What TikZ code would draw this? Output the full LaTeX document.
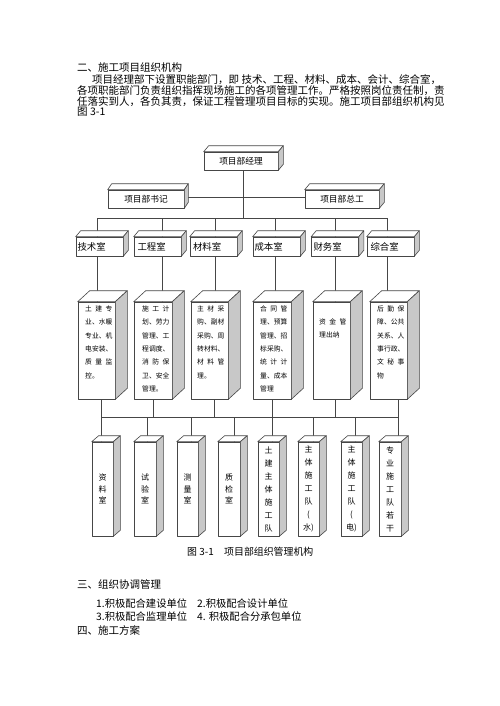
\documentclass[tikz,border=0pt]{standalone}
\usepackage{fontspec}
\setmainfont{Noto Sans CJK SC}
\pgfdeclarelayer{bg}
\pgfsetlayers{bg,main}
\newcommand\fT{\fontsize{10.5}{11}\selectfont}
\newcommand\fA{\fontsize{8.7}{10}\selectfont}
\newcommand\fB{\fontsize{9.4}{10}\selectfont}
\newcommand\fD{\fontsize{6.8}{13.3}\selectfont}
\newcommand\fE{\fontsize{8}{11.7}\selectfont}
\newcommand\fF{\fontsize{8}{13}\selectfont}
\newcommand\fC{\fontsize{9.9}{11}\selectfont}
\newcommand\fG{\fontsize{10.3}{11}\selectfont}
\newlength\jw
\setlength\jw{27.2pt}
\newcommand\triline[3]{\makebox[\jw][s]{#1\hfill#2\hfill#3}}
\newcommand\rt[2]{\makebox[47pt][l]{\hspace{#1pt}#2}}
\newcommand\cubefaces[3]{%
  \filldraw[face] (#1.north west) -- ([shift={(#2,#3)}]#1.north west) -- ([shift={(#2,#3)}]#1.north east) -- (#1.north east) -- cycle;
  \filldraw[face,fill=sidegray] (#1.north east) -- ([shift={(#2,#3)}]#1.north east) -- ([shift={(#2,#3)}]#1.south east) -- (#1.south east) -- cycle;}
\definecolor{sidegray}{RGB}{200,200,200}
\definecolor{linegray}{RGB}{70,70,70}
\begin{document}
\begin{tikzpicture}[x=1pt,y=-1pt,
  conn/.style={draw=linegray,line width=0.6pt},
  face/.style={draw=linegray,line width=0.6pt,fill=white,line join=round},
  box/.style={draw=linegray,line width=0.6pt,fill=white,inner sep=0pt,line join=round},
  txt/.style={inner sep=0pt,anchor=base west,font=\fT},
  inbox/.style={inner sep=0pt,anchor=north west,align=left,font=\fD}]
\useasboundingbox (0,0) rectangle (500,706);

% ---- text above ----
\node[txt] (h1) at (77,72) {二、施工项目组织机构};
\node[txt] (p1) at (92,84) {项目经理部下设置职能部门，即 技术、工程、材料、成本、会计、综合室，};
\node[txt] (p2) at (77,95) {各项职能部门负责组织指挥现场施工的各项管理工作。严格按照岗位责任制，责};
\node[txt] (p3) at (77,106) {任落实到人，各负其责，保证工程管理项目目标的实现。施工项目部组织机构见};
\node[txt] (p4) at (77,116) {图 3-1};

% ---- level 1 and 2 ----
\node[box,minimum width=74pt,minimum height=18pt,font=\fA] (jl) at (241,161) {项目部经理};
\node[box,minimum width=76pt,minimum height=18pt,font=\fA] (sj) at (146,199) {项目部书记};
\node[box,minimum width=74pt,minimum height=18pt,font=\fA] (zg) at (342,199) {项目部总工};
\cubefaces{jl}{5}{-6}
\cubefaces{sj}{4}{-6}
\cubefaces{zg}{5}{-6}

% ---- level 3 ----
\node[box,minimum width=47pt,minimum height=19pt,font=\fB] (r1) at (99.5,246.5) {\rt{1.5}{技术室}};
\node[box,minimum width=47pt,minimum height=19pt,font=\fB] (r2) at (157.5,246.5) {\rt{3.5}{工程室}};
\node[box,minimum width=47pt,minimum height=19pt,font=\fB] (r3) at (213.5,246.5) {\rt{3}{材料室}};
\node[box,minimum width=47pt,minimum height=19pt,font=\fB] (r4) at (276.5,246.5) {\rt{1.5}{成本室}};
\node[box,minimum width=46pt,minimum height=19pt,font=\fB] (r5) at (335,246.5) {\rt{2}{财务室}};
\node[box,minimum width=47pt,minimum height=19pt,font=\fB] (r6) at (390.5,246.5) {\rt{3.5}{综合室}};
\foreach \n in {r1,r2,r3,r4,r5,r6}{\cubefaces{\n}{5}{-6}}

% ---- level 4 ----
\node[box,minimum width=37pt,minimum height=97pt] (b1) at (96.5,350.5) {};
\node[box,minimum width=38pt,minimum height=97pt] (b2) at (153,350.5) {};
\node[box,minimum width=37pt,minimum height=97pt] (b3) at (209.5,350.5) {};
\node[box,minimum width=38pt,minimum height=97pt] (b4) at (272,350.5) {};
\node[box,minimum width=37pt,minimum height=97pt] (b5) at (331.5,350.5) {};
\node[box,minimum width=37pt,minimum height=97pt] (b6) at (388.5,350.5) {};
\foreach \n in {b1,b2,b3,b4,b5,b6}{\cubefaces{\n}{12}{-11}}
\node[inbox] (bt1) at (85,305.6) {\triline{土}{建}{专}\\业、水暖\\专业、机\\电安装、\\\triline{质}{量}{监}\\控。};
\node[inbox] (bt2) at (142,305.6) {\triline{施}{工}{计}\\划、劳力\\管理、工\\程调度、\\\triline{消}{防}{保}\\卫、安全\\管理。};
\node[inbox] (bt3) at (197,305.6) {\triline{主}{材}{采}\\购、副材\\采购、周\\转材料、\\\triline{材}{料}{管}\\理。};
\node[inbox] (bt4) at (260,305.6) {\triline{合}{同}{管}\\理、预算\\管理、招\\标采购、\\\triline{统}{计}{计}\\量、成本\\管理};
\node[inbox] (bt5) at (319,318.6) {\triline{资}{金}{管}\\理出纳};
\node[inbox] (bt6) at (377,305.6) {\triline{后}{勤}{保}\\障、公共\\关系、人\\事行政、\\\triline{文}{秘}{事}\\物};

% ---- level 5 ----
\node[box,minimum width=21pt,minimum height=94pt,align=center,font=\fE] (c1) at (102.5,489) {资\\料\\室};
\node[box,minimum width=22pt,minimum height=94pt,align=center,font=\fE] (c2) at (145,489) {试\\验\\室};
\node[box,minimum width=21pt,minimum height=94pt,align=center,font=\fE] (c3) at (187.5,489) {测\\量\\室};
\node[box,minimum width=22pt,minimum height=94pt,align=center,font=\fE] (c4) at (229,489) {质\\检\\室};
\node[box,minimum width=21pt,minimum height=94pt,align=center,font=\fF] (c5) at (268.5,489) {土\\建\\主\\体\\施\\工\\队};
\node[box,minimum width=21pt,minimum height=94pt,align=center,font=\fF] (c6) at (308.5,489) {主\\体\\施\\工\\队\\(\\水)};
\node[box,minimum width=21pt,minimum height=94pt,align=center,font=\fF] (c7) at (351.5,489) {主\\体\\施\\工\\队\\(\\电)};
\node[box,minimum width=22pt,minimum height=94pt,align=center,font=\fF] (c8) at (390,489) {专\\业\\施\\工\\队\\若\\干};
\foreach \n in {c1,c2,c3,c4,c5,c6,c7,c8}{\cubefaces{\n}{7}{-6}}

% ---- caption and text below ----
\node[txt,font=\fC] (cap1) at (187,555) {图 3-1};
\node[txt,font=\fC] (cap2) at (224,555) {项目部组织管理机构};
\node[txt] (s3) at (77,588) {三、组织协调管理};
\node[txt,font=\fG] (i1) at (96,607) {1.积极配合建设单位};
\node[txt,font=\fG] (i2) at (197,607) {2.积极配合设计单位};
\node[txt,font=\fG] (i3) at (96,620) {3.积极配合监理单位};
\node[txt,font=\fG] (i4) at (197,620) {4. 积极配合分承包单位};
\node[txt] (s4) at (77,634) {四、施工方案};

% ---- connectors (behind boxes) ----
\begin{pgfonlayer}{bg}
\fill[white] (0,0) rectangle (500,706);
\coordinate (t0) at (243,218);
\draw[conn] (jl.south -| t0) -- (t0);
\draw[conn] ([shift={(2,-2)}]sj.east) -- ([shift={(0,-2)}]zg.west);
\coordinate (a1) at (97,218);
\coordinate (a2) at (162,218);
\coordinate (a3) at (215,218);
\coordinate (a4) at (275,218);
\coordinate (a5) at (335,218);
\coordinate (a6) at (387,218);
\draw[conn] (a1) -- (a6);
\foreach \i in {1,...,6}{
  \draw[conn] (a\i) -- (a\i |- r\i.center);
  \draw[conn] (a\i |- r\i.south) -- (a\i |- b\i.center);
}
\coordinate (d1) at (101,417);
\coordinate (d2) at (153,417);
\coordinate (d3) at (214,417);
\coordinate (d4) at (272,417);
\coordinate (d5) at (335,417);
\coordinate (d6) at (398,417);
\draw[conn] (d1) -- (d6);
\foreach \i in {1,...,6}{\draw[conn] (d\i |- b\i.south) -- (d\i);}
\coordinate (e1) at (101,417);
\coordinate (e2) at (147,417);
\coordinate (e3) at (191,417);
\coordinate (e4) at (234,417);
\coordinate (e5) at (272,417);
\coordinate (e6) at (313,417);
\coordinate (e7) at (355,417);
\coordinate (e8) at (398,417);
\foreach \i in {1,...,8}{\draw[conn] (e\i) -- (e\i |- c\i.center);}
\end{pgfonlayer}
\end{tikzpicture}
\end{document}
